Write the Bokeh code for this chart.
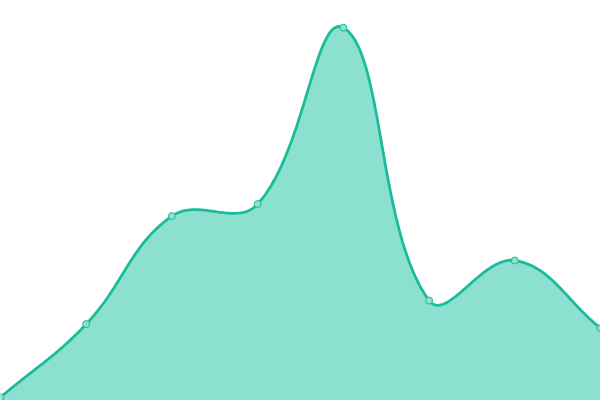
import numpy as np
from bokeh.plotting import figure
from bokeh.models import Range1d
from bokeh.embed import file_html
from bokeh.resources import INLINE

# data
labels = ["A", "B", "C", "D", "E", "F", "G", "H"]
values = [0.8, 19.1, 46.1, 49.1, 93.2, 25.0, 35.0, 18.1]

W, H = 600, 400
Y_MAX = 100.0
TENSION = 0.4

xs = np.arange(len(values), dtype=float)
ys = np.array(values, dtype=float)

# work in pixel space (as Chart.js does) for the spline control points
sx = W / (len(values) - 1)
sy = H / Y_MAX
px = xs * sx
py = ys * sy
n = len(px)

cp_prev = np.zeros((n, 2))
cp_next = np.zeros((n, 2))
for i in range(n):
    pi = max(i - 1, 0)
    ni = min(i + 1, n - 1)
    prev = np.array([px[pi], py[pi]])
    cur = np.array([px[i], py[i]])
    nxt = np.array([px[ni], py[ni]])
    d01 = np.hypot(*(cur - prev))
    d12 = np.hypot(*(nxt - cur))
    tot = d01 + d12
    s01 = d01 / tot if tot else 0.0
    s12 = d12 / tot if tot else 0.0
    cp_prev[i] = cur - TENSION * s01 * (nxt - prev)
    cp_next[i] = cur + TENSION * s12 * (nxt - prev)
# cap control points to chart area
for arr in (cp_prev, cp_next):
    arr[:, 0] = np.clip(arr[:, 0], 0, W)
    arr[:, 1] = np.clip(arr[:, 1], 0, H)

cx, cy = [], []
t = np.linspace(0, 1, 60)
for i in range(n - 1):
    p0 = np.array([px[i], py[i]])
    p1 = cp_next[i]
    p2 = cp_prev[i + 1]
    p3 = np.array([px[i + 1], py[i + 1]])
    b = ((1 - t) ** 3)[:, None] * p0 + (3 * (1 - t) ** 2 * t)[:, None] * p1 \
        + (3 * (1 - t) * t ** 2)[:, None] * p2 + (t ** 3)[:, None] * p3
    if i > 0:
        b = b[1:]
    cx.extend(b[:, 0] / sx)
    cy.extend(b[:, 1] / sy)
cx = np.array(cx)
cy = np.array(cy)

p = figure(width=W, height=H, output_backend="svg", toolbar_location=None,
           x_range=Range1d(0, len(values) - 1), y_range=Range1d(0, Y_MAX),
           x_axis_type=None, y_axis_type=None, min_border=0,
           outline_line_color=None, background_fill_color="white",
           border_fill_color="white")
p.grid.visible = False
p.styles = {"position": "absolute", "left": "0px", "top": "0px"}

p.varea(x=cx, y1=np.zeros_like(cy), y2=cy, fill_color="#8be0cf", fill_alpha=1.0)
p.line(x=cx, y=cy, line_color="#1abc9c", line_width=2.8)
p.scatter(x=xs, y=ys, size=7, fill_color="#8be0cf", line_color="#1abc9c",
          line_width=1)

open("out.html", "w").write(file_html(p, INLINE))
